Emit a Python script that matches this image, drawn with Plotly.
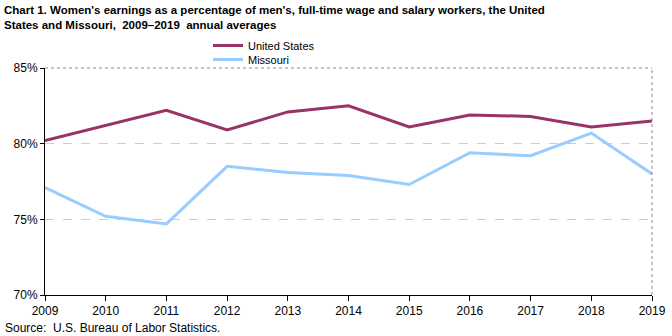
import plotly.graph_objects as go

years = [2009, 2010, 2011, 2012, 2013, 2014, 2015, 2016, 2017, 2018, 2019]
us_values = [80.2, 81.2, 82.2, 80.9, 82.1, 82.5, 81.1, 81.9, 81.8, 81.1, 81.5]
mo_values = [77.1, 75.2, 74.7, 78.5, 78.1, 77.9, 77.3, 79.4, 79.2, 80.7, 78.0]
y_ticks = [70, 75, 80, 85]
y_tick_labels = ["70%", "75%", "80%", "85%"]

TFONT = "Liberation Sans, Arial, sans-serif"

fig = go.Figure()
fig.add_trace(go.Scatter(x=years, y=us_values, mode="lines", name="United States",
                         line=dict(color="#993366", width=3), legend="legend"))
fig.add_trace(go.Scatter(x=years, y=mo_values, mode="lines", name="Missouri",
                         line=dict(color="#99CCFF", width=3), legend="legend2"))

leg_common = dict(xref="container", yref="container", xanchor="left", yanchor="top",
                  orientation="v", bgcolor="rgba(0,0,0,0)",
                  font=dict(size=11, family=TFONT), itemwidth=30)

fig.update_layout(
    width=672, height=336,
    margin=dict(l=45, r=20, t=68, b=41, autoexpand=False),
    paper_bgcolor="white", plot_bgcolor="white",
    font=dict(family=TFONT, size=12, color="black"),
    showlegend=True,
    legend=dict(x=208/672, y=1 - 31/336, **leg_common),
    legend2=dict(x=208/672, y=1 - 45/336, **leg_common),
    xaxis=dict(range=[2009, 2019], tickmode="array", tickvals=years,
               ticks="outside", ticklen=5, tickcolor="black",
               showline=True, linecolor="black", linewidth=1,
               showgrid=False, zeroline=False, tickfont=dict(size=12)),
    yaxis=dict(range=[70, 85], tickmode="array", tickvals=y_ticks,
               ticktext=y_tick_labels, ticks="outside", ticklen=4,
               tickcolor="black", showline=True, linecolor="black", linewidth=1,
               showgrid=True, gridcolor="#cccccc", griddash="dash", gridwidth=1,
               zeroline=False, tickfont=dict(size=12)),
    annotations=[
        dict(text="<b>Chart 1. Women's earnings as a percentage of men's, full-time wage and salary workers, the United<br>States and Missouri,  2009–2019  annual averages</b>",
             xref="paper", yref="paper", x=-43/607, y=1 + 66/227, xanchor="left", yanchor="top",
             align="left", showarrow=False, font=dict(size=11.5, family=TFONT)),
        dict(text="Source:  U.S. Bureau of Labor Statistics.",
             xref="paper", yref="paper", x=-42/607, y=-24/227, xanchor="left", yanchor="top",
             align="left", showarrow=False, font=dict(size=12, family=TFONT)),
    ],
    shapes=[
        dict(type="line", xref="paper", yref="paper", x0=1, x1=1, y0=0, y1=1,
             line=dict(color="#888888", width=1, dash="dot")),
        dict(type="line", xref="paper", yref="paper", x0=0, x1=1, y0=1, y1=1,
             line=dict(color="#888888", width=1, dash="dot")),
    ],
)

fig.write_html("out.html")
